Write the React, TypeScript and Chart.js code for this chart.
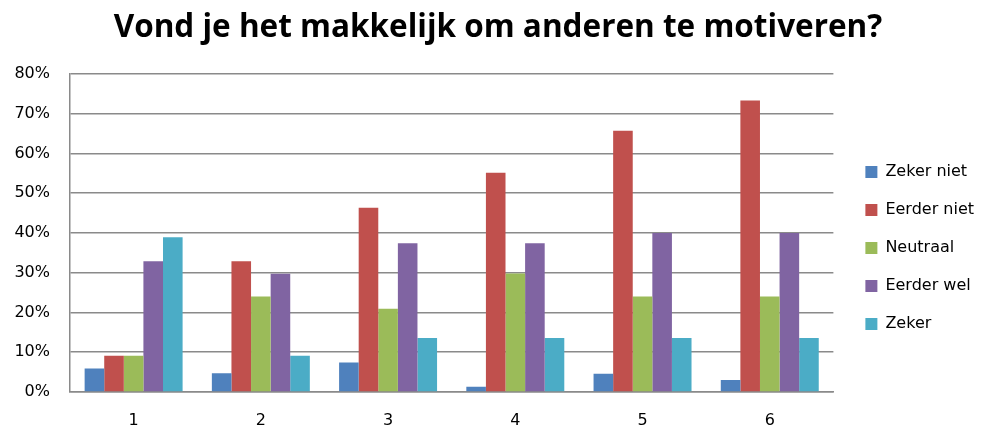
import React, { useEffect, useRef } from 'react';
import { Chart, registerables } from 'chart.js';
Chart.register(...registerables);

const title = 'Vond je het makkelijk om anderen te motiveren?';
const categories = ['1', '2', '3', '4', '5', '6'];
const seriesNames = ['Zeker niet', 'Eerder niet', 'Neutraal', 'Eerder wel', 'Zeker'];
const zekerNiet = [5.9, 4.7, 7.4, 1.3, 4.6, 3.0];
const eerderNiet = [9.1, 32.9, 46.3, 55.1, 65.7, 73.3];
const neutraal = [9.1, 24.0, 20.9, 29.8, 24.0, 24.0];
const eerderWel = [32.9, 29.7, 37.4, 37.4, 40.0, 40.0];
const zeker = [38.9, 9.1, 13.6, 13.6, 13.6, 13.6];
const seriesValues = [zekerNiet, eerderNiet, neutraal, eerderWel, zeker];
const seriesColors = ['#4F81BD', '#C0504D', '#9BBB59', '#8064A2', '#4BACC6'];

const FONT = "'DejaVu Sans', sans-serif";

export default function App() {
  const ref = useRef<HTMLCanvasElement | null>(null);
  useEffect(() => {
    if (!ref.current) return;
    const chart = new Chart(ref.current, {
      type: 'bar',
      data: {
        labels: categories,
        datasets: seriesNames.map((name, i) => ({
          label: name,
          data: seriesValues[i],
          backgroundColor: seriesColors[i],
          borderWidth: 0,
          barPercentage: 1,
          categoryPercentage: 0.77,
          yAxisID: 'y',
        })),
      },
      options: {
        animation: false,
        responsive: false,
        maintainAspectRatio: false,
        layout: { padding: { left: 12, right: 2, top: 0, bottom: 1 } },
        plugins: {
          title: {
            display: true,
            text: title,
            color: '#000',
            font: { family: "'Open Sans', sans-serif", size: 31.5, weight: 'bold' },
            padding: { top: 9, bottom: 27 },
          },
          legend: {
            position: 'right',
            align: 'center',
            title: {
              display: true,
              text: ' ',
              font: { size: 10 },
              padding: { top: 56, bottom: 0 },
            },
            labels: {
              boxWidth: 12,
              boxHeight: 12,
              padding: 22,
              color: '#000',
              font: { family: FONT, size: 16 },
            },
          },
          tooltip: { enabled: false },
        },
        scales: {
          x: {
            grid: { display: false, drawTicks: false },
            border: { display: true, color: '#8a8a8a', width: 1.5 },
            ticks: { color: '#000', padding: 21, font: { family: FONT, size: 16, lineHeight: 1 } },
            afterFit: (s: any) => { s.height = 36; },
          },
          y: {
            position: 'left',
            min: 0,
            max: 80,
            grid: { color: '#8a8a8a', lineWidth: 1.5, drawTicks: false },
            border: { display: true, color: '#8a8a8a', width: 1.5 },
            ticks: {
              stepSize: 10,
              color: '#000',
              padding: 20,
              font: { family: FONT, size: 16 },
              callback: (v: any) => v + '%',
            },
            afterFit: (s: any) => { s.width = 58; },
          },
          y2: {
            position: 'right',
            display: true,
            grid: { display: false, drawTicks: false },
            border: { display: false },
            ticks: { display: false },
            afterFit: (s: any) => { s.width = 10; },
          },
        },
      },
    });
    return () => chart.destroy();
  }, []);
  return (
    <div style={{ position: 'fixed', left: 0, top: 0, width: 986, height: 429, background: '#fff' }}>
      <canvas ref={ref} width={986} height={429} style={{ width: 986, height: 429 }} />
    </div>
  );
}
